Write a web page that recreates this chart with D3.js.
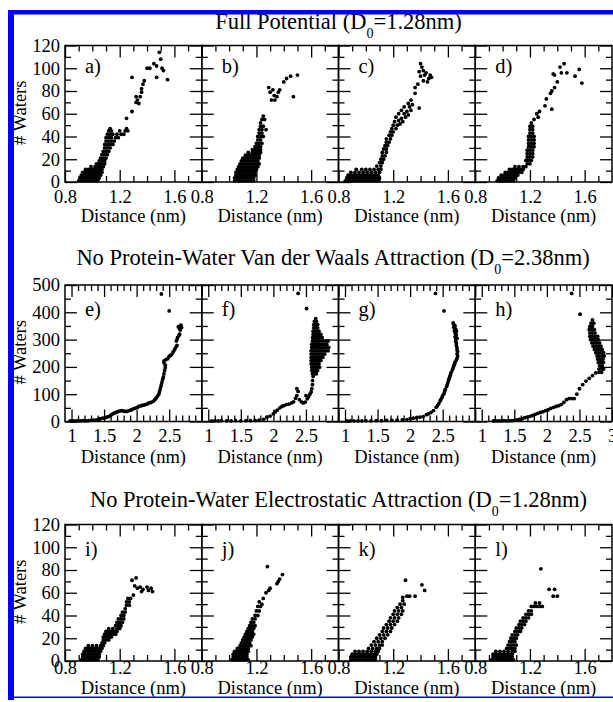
<!DOCTYPE html>
<html>
<head>
<meta charset="utf-8">
<script src="https://d3js.org/d3.v7.min.js"></script>
<style>
    body { margin: 0; background: #fff; }
    svg { display: block; }
    text { font-family: "Liberation Serif", "Times New Roman", serif; fill: #000; }
    .tick text { font-size: 18.5px; }
    .tick line { stroke: #000; stroke-width: 1.3px; }
    .title { font-size: 22.5px; }
    .lab { font-size: 18.5px; }
    .letter { font-size: 20.5px; }
</style>
</head>
<body>
<div id="chart"></div>
<script>
// ---- titles / labels ----
var rowTitles = [
    ["Full Potential (D", "0", "=1.28nm)"],
    ["No Protein-Water Van der Waals Attraction (D", "0", "=2.38nm)"],
    ["No Protein-Water Electrostatic Attraction (D", "0", "=1.28nm)"]
];
var panelNames = ["a)", "b)", "c)", "d)", "e)", "f)", "g)", "h)", "i)", "j)", "k)", "l)"];
var xLabel = "Distance (nm)";
var yLabel = "# Waters";

// ---- axis ticks ----
var xMajorShort = [0.8, 1.2, 1.6];
var xMinorShort = [0.9, 1.0, 1.1, 1.3, 1.4, 1.5, 1.7];
var yMajorShort = [0, 20, 40, 60, 80, 100, 120];
var yMinorShort = [10, 30, 50, 70, 90, 110];
var xMajorLong = [1, 1.5, 2, 2.5, 3];
var xLabelsLong = [1, 1.5, 2, 2.5];
var xLabelsLongLast = [1, 1.5, 2, 2.5, 3];
var xMinorLong = [1.1, 1.2, 1.3, 1.4, 1.6, 1.7, 1.8, 1.9, 2.1, 2.2, 2.3, 2.4, 2.6, 2.7, 2.8, 2.9];
var yMajorLong = [0, 100, 200, 300, 400, 500];
var yMinorLong = [50, 150, 250, 350, 450];

// ---- data: [distance nm, # waters] ----
var ptsA = [[0.90,1],[0.92,1],[0.94,1],[0.96,1],[0.98,1],[1.00,1],[1.02,1],[1.04,1],
[0.91,3.5],[0.93,3.5],[0.95,3.5],[0.97,3.5],[0.99,3.5],[1.01,3.5],[1.03,3.5],[1.05,3.5],
[0.92,6],[0.94,6],[0.96,6],[0.98,6],[1.00,6],[1.02,6],[1.04,6],[1.06,6],
[0.93,8.5],[0.95,8.5],[0.97,8.5],[0.99,8.5],[1.01,8.5],[1.03,8.5],[1.05,8.5],[1.07,8.5],
[0.95,11],[0.97,11],[0.99,11],[1.01,11],[1.03,11],[1.05,11],[1.07,11],
[0.99,13.5],[1.02,13.5],[1.04,13.5],[1.06,13.5],[1.08,13.5],
[1.03,16],[1.05,16],[1.07,16],[1.09,16],[1.05,18.5],[1.07,18.5],[1.09,18.5],
[1.06,21],[1.08,21],[1.10,21],[1.07,24],[1.09,24],[1.11,24],[1.08,27],[1.10,27],[1.12,27],
[1.09,30],[1.11,30],[1.13,30],[1.09,33],[1.11,33],[1.13,33],[1.15,33],
[1.10,36],[1.12,36],[1.14,36],[1.16,36],[1.10,39],[1.12,39],[1.14,39],[1.17,39],[1.19,39],
[1.11,42],[1.13,42],[1.15,42],[1.18,42],[1.21,42],[1.23,42],[1.12,45],[1.14,45],[1.20,45],[1.24,45],[1.26,45],
[1.13,47],[1.25,47],
[1.25,56],[1.29,62],[1.29,92],[1.32,70],[1.33,72],[1.34,69],[1.32,75],[1.35,75],[1.36,79],[1.36,82],
[1.37,86],[1.38,89],[1.40,100],[1.42,100],[1.45,104],[1.47,102],[1.49,114],[1.50,108],[1.47,92],
[1.51,100],[1.52,98],[1.55,90]];

var ptsB = [[1.04,1],[1.06,1],[1.08,1],[1.10,1],[1.12,1],[1.14,1],[1.16,1],[1.18,1],
[1.04,3.5],[1.06,3.5],[1.08,3.5],[1.10,3.5],[1.12,3.5],[1.14,3.5],[1.16,3.5],[1.18,3.5],
[1.05,6],[1.07,6],[1.09,6],[1.11,6],[1.13,6],[1.15,6],[1.17,6],[1.19,6],
[1.05,8.5],[1.07,8.5],[1.09,8.5],[1.11,8.5],[1.13,8.5],[1.15,8.5],[1.17,8.5],[1.19,8.5],
[1.06,11],[1.08,11],[1.10,11],[1.12,11],[1.14,11],[1.16,11],[1.18,11],[1.20,11],
[1.07,13.5],[1.09,13.5],[1.11,13.5],[1.13,13.5],[1.15,13.5],[1.17,13.5],[1.19,13.5],[1.21,13.5],
[1.08,16],[1.10,16],[1.12,16],[1.14,16],[1.16,16],[1.18,16],[1.20,16],[1.22,16],
[1.09,18.5],[1.11,18.5],[1.13,18.5],[1.15,18.5],[1.17,18.5],[1.19,18.5],[1.21,18.5],
[1.10,21],[1.12,21],[1.14,21],[1.16,21],[1.18,21],[1.20,21],[1.22,21],
[1.12,23.5],[1.14,23.5],[1.16,23.5],[1.18,23.5],[1.20,23.5],[1.22,23.5],
[1.14,26],[1.17,26],[1.19,26],[1.21,26],[1.23,26],[1.17,28.5],[1.19,28.5],[1.21,28.5],[1.23,28.5],
[1.19,31],[1.21,31],[1.23,31],[1.20,34],[1.22,34],[1.24,34],[1.21,37],[1.23,37],
[1.21,40],[1.23,40],[1.25,40],[1.22,43],[1.24,43],[1.22,46],[1.24,46],[1.23,49],[1.25,49],
[1.23,52],[1.24,55],[1.26,55],
[1.27,46],[1.25,58],[1.29,83],[1.30,79],[1.32,81],[1.33,76],[1.31,72],[1.335,72],[1.35,75],
[1.36,79],[1.37,81],[1.40,88],[1.42,91],[1.45,93],[1.50,94],[1.47,75]];

var ptsC = [[0.85,1],[0.87,1],[0.89,1],[0.91,1],[0.93,1],[0.95,1],[0.97,1],[0.99,1],[1.01,1],[1.03,1],[1.05,1],[1.07,1],[1.09,1],
[0.86,3.5],[0.88,3.5],[0.90,3.5],[0.92,3.5],[0.94,3.5],[0.96,3.5],[0.98,3.5],[1.00,3.5],[1.02,3.5],[1.04,3.5],[1.06,3.5],[1.08,3.5],[1.10,3.5],
[0.87,6],[0.89,6],[0.91,6],[0.93,6],[0.95,6],[0.97,6],[0.99,6],[1.01,6],[1.03,6],[1.05,6],[1.07,6],[1.09,6],
[0.89,8.5],[0.92,8.5],[0.95,8.5],[0.98,8.5],[1.01,8.5],[1.04,8.5],[1.07,8.5],[1.10,8.5],
[0.93,11],[0.97,11],[1.00,11],[1.03,11],[1.06,11],[1.09,11],[1.11,11],
[1.08,14],[1.11,14],[1.10,17],[1.12,17],[1.11,20],[1.13,20],[1.12,23],[1.14,23],
[1.12,26],[1.15,26],[1.13,29],[1.15,29],[1.14,32],[1.16,32],[1.15,35],[1.17,35],
[1.15,38],[1.18,38],[1.17,41],[1.19,41],[1.18,44],[1.20,44],[1.19,47],[1.22,47],
[1.20,50],[1.23,50],[1.25,51],[1.21,53],[1.24,54],[1.27,53],
[1.22,57],[1.26,56],[1.29,57],[1.24,60],[1.28,60],[1.31,59],
[1.26,63],[1.30,62],[1.33,63],[1.28,66],[1.32,66],[1.39,65],[1.31,69],[1.34,68],[1.33,72],
[1.36,78],[1.36,83],[1.38,86],[1.40,104],[1.41,101],[1.42,98],[1.43,94],[1.44,96],[1.46,91],
[1.47,94],[1.48,92],[1.45,88],[1.42,89],[1.40,93],[1.39,97]];

var ptsD = [[0.96,1],[0.98,1],[1.00,1],[1.02,1],[1.04,1],[1.06,1],[1.08,1],
[0.97,3.5],[0.99,3.5],[1.01,3.5],[1.03,3.5],[1.05,3.5],[1.07,3.5],[1.09,3.5],
[0.99,6],[1.01,6],[1.03,6],[1.05,6],[1.07,6],[1.09,6],[1.11,6],
[1.02,8.5],[1.04,8.5],[1.06,8.5],[1.08,8.5],[1.10,8.5],[1.12,8.5],[1.14,8.5],
[1.05,11],[1.07,11],[1.09,11],[1.11,11],[1.13,11],[1.15,11],
[1.09,13.5],[1.12,13.5],[1.15,13.5],[1.17,13.5],[1.18,16],[1.20,16],
[1.17,19],[1.19,19],[1.21,19],[1.18,22],[1.20,22],[1.22,22],[1.18,25],[1.20,25],[1.22,25],
[1.18,28],[1.20,28],[1.22,28],[1.19,31],[1.21,31],[1.23,31],[1.19,34],[1.21,34],[1.23,34],
[1.19,37],[1.21,37],[1.23,37],[1.19,40],[1.21,40],[1.23,40],[1.20,43],[1.22,43],
[1.20,46],[1.22,46],[1.20,49],[1.22,49],[1.21,52],
[1.23,55],[1.25,60],[1.26,57],[1.27,62],[1.31,67],[1.32,73],[1.35,78],[1.36,64],[1.36,80],
[1.37,95],[1.38,94],[1.38,83],[1.40,88],[1.42,101],[1.43,96],[1.45,104],[1.47,96],[1.53,93],
[1.56,99],[1.58,87]];

var ptsE = [[0.98,2],[1.02,2],[1.06,2],[1.10,2],[1.14,2],[1.18,3],[1.22,2],[1.26,3],[1.30,4],[1.34,5],[1.38,6],[1.42,8],
[1.44,10],[1.48,12],[1.51,13],[1.54,16],[1.57,18],[1.60,22],[1.62,26],[1.65,30],[1.67,32],[1.70,35],
[1.72,37],[1.75,39],[1.77,40],[1.80,38],[1.82,37],[1.85,37],[1.87,39],[1.90,41],[1.92,43],[1.95,46],
[1.98,49],[2.01,52],[2.03,55],[2.06,57],[2.08,59],[2.11,60],[2.13,62],[2.16,64],[2.18,67],[2.21,69],
[2.23,71],[2.26,75],[2.28,80],[2.30,86],[2.32,92],[2.34,100],[2.35,108],[2.36,117],[2.37,126],
[2.38,135],[2.39,145],[2.40,155],[2.41,163],[2.42,175],[2.43,187],[2.44,197],[2.44,206],[2.42,215],
[2.42,222],[2.45,227],[2.48,230],[2.50,239],[2.52,242],[2.54,246],[2.56,255],[2.58,262],[2.59,267],
[2.61,275],[2.62,279],[2.61,295],[2.62,300],[2.63,308],[2.65,315],[2.66,320],[2.67,335],[2.69,344],
[2.64,347],[2.68,353],[2.66,340],
[2.38,467],[2.50,405]];

var ptsF = [[1.05,2],[1.10,2],[1.15,2],[1.20,3],[1.28,2],[1.35,2],[1.42,3],[1.50,2],[1.58,3],[1.65,3],[1.72,4],[1.78,5],[1.85,8],
[1.90,16],[1.95,20],[2.00,28],[2.03,35],[2.06,42],[2.10,50],[2.13,55],[2.16,58],[2.20,62],[2.24,64],
[2.28,68],[2.31,72],[2.34,85],[2.36,95],[2.38,110],[2.36,120],[2.40,80],[2.43,72],[2.46,68],[2.49,71],
[2.52,83],[2.50,95],[2.54,90],[2.56,100],[2.58,108],[2.59,120],[2.60,135],[2.60,150],[2.61,165],
[2.60,175],[2.63,175],[2.66,175],[2.59,187],[2.62,187],[2.65,187],[2.68,187],
[2.59,199],[2.62,199],[2.65,199],[2.68,199],[2.71,199],[2.58,211],[2.61,211],[2.64,211],[2.67,211],[2.70,211],
[2.58,223],[2.61,223],[2.64,223],[2.67,223],[2.70,223],[2.73,223],
[2.58,235],[2.61,235],[2.64,235],[2.67,235],[2.70,235],[2.73,235],[2.76,235],
[2.58,247],[2.61,247],[2.64,247],[2.67,247],[2.70,247],[2.73,247],[2.76,247],[2.79,247],
[2.58,259],[2.61,259],[2.64,259],[2.67,259],[2.70,259],[2.73,259],[2.76,259],[2.80,259],[2.84,259],
[2.59,271],[2.62,271],[2.65,271],[2.68,271],[2.71,271],[2.74,271],[2.77,271],[2.81,271],[2.85,271],
[2.59,283],[2.62,283],[2.65,283],[2.68,283],[2.71,283],[2.74,283],[2.78,283],[2.82,283],
[2.60,295],[2.63,295],[2.66,295],[2.69,295],[2.72,295],[2.76,295],[2.80,295],[2.84,295],
[2.60,307],[2.63,307],[2.66,307],[2.69,307],[2.72,307],[2.75,307],
[2.61,319],[2.64,319],[2.67,319],[2.70,319],[2.73,319],[2.61,331],[2.64,331],[2.67,331],[2.70,331],
[2.62,343],[2.65,343],[2.68,343],[2.62,355],[2.65,355],[2.68,355],[2.63,367],[2.66,367],[2.65,377],
[2.38,469],[2.51,414]];

var ptsG = [[1.03,2],[1.08,2],[1.14,2],[1.20,2],[1.26,2],[1.32,3],[1.40,2],[1.48,3],[1.56,3],[1.64,4],[1.72,4],[1.80,5],[1.88,6],[1.95,7],
[2.00,10],[2.05,12],[2.10,14],[2.15,16],[2.20,18],[2.25,25],[2.28,28],[2.32,33],[2.36,40],[2.40,52],
[2.42,58],[2.44,65],[2.46,75],[2.47,80],[2.49,88],[2.50,95],[2.52,102],[2.53,110],[2.54,118],[2.56,128],
[2.57,135],[2.58,142],[2.59,151],[2.60,158],[2.61,165],[2.62,172],[2.63,180],[2.65,190],[2.66,196],
[2.67,203],[2.68,210],[2.69,217],[2.71,225],[2.72,232],[2.73,240],[2.72,248],[2.73,256],[2.72,262],
[2.72,270],[2.71,278],[2.71,286],[2.70,294],[2.70,302],[2.69,310],[2.71,317],[2.69,324],[2.68,332],
[2.70,338],[2.67,345],[2.69,350],[2.67,356],[2.66,361],[2.71,330],[2.72,305],
[2.39,469],[2.52,405]];

var ptsH = [[1.18,2],[1.22,2],[1.26,2],[1.30,2],[1.34,3],[1.38,2],[1.42,3],[1.46,3],[1.50,4],
[1.54,6],[1.58,8],[1.62,10],[1.66,14],[1.70,16],[1.74,19],[1.78,22],[1.82,26],[1.86,30],[1.90,33],
[1.94,36],[1.98,40],[2.02,43],[2.06,48],[2.10,52],[2.14,55],[2.18,58],[2.22,62],[2.26,70],[2.30,80],
[2.34,84],[2.38,84],[2.42,84],[2.46,100],[2.50,120],[2.55,135],[2.60,148],[2.65,158],[2.70,168],[2.75,178],
[2.80,180],[2.84,180],[2.80,192],[2.84,192],[2.87,192],[2.81,204],[2.85,204],
[2.79,216],[2.83,216],[2.87,216],[2.78,228],[2.82,228],[2.86,228],
[2.77,240],[2.81,240],[2.85,240],[2.88,240],[2.75,252],[2.79,252],[2.83,252],[2.87,252],
[2.73,264],[2.77,264],[2.81,264],[2.85,264],[2.71,276],[2.75,276],[2.79,276],[2.83,276],
[2.69,288],[2.73,288],[2.77,288],[2.81,288],[2.67,300],[2.71,300],[2.75,300],[2.79,300],
[2.66,312],[2.70,312],[2.74,312],[2.78,312],[2.66,324],[2.70,324],[2.74,324],
[2.65,336],[2.69,336],[2.73,336],[2.66,348],[2.70,348],[2.68,360],[2.72,360],[2.70,372],
[2.38,469],[2.51,393]];

var ptsI = [[0.92,1],[0.94,1],[0.96,1],[0.98,1],[1.00,1],[1.02,1],[1.04,1],
[0.93,3.5],[0.95,3.5],[0.97,3.5],[0.99,3.5],[1.01,3.5],[1.03,3.5],[1.05,3.5],
[0.93,6],[0.95,6],[0.97,6],[0.99,6],[1.01,6],[1.03,6],[1.05,6],
[0.94,8.5],[0.96,8.5],[0.98,8.5],[1.00,8.5],[1.02,8.5],[1.04,8.5],[1.06,8.5],
[0.95,11],[0.97,11],[0.99,11],[1.01,11],[1.03,11],[1.05,11],[1.07,11],
[0.97,13.5],[1.00,13.5],[1.03,13.5],[1.06,13.5],[1.08,13.5],[1.07,16],[1.09,16],
[1.08,18.5],[1.10,18.5],[1.12,18.5],[1.08,21],[1.10,21],[1.12,21],[1.14,21],
[1.09,23.5],[1.11,23.5],[1.13,23.5],[1.15,23.5],[1.17,23.5],[1.10,26],[1.12,26],[1.14,26],[1.16,26],[1.18,26],
[1.12,28.5],[1.15,28.5],[1.18,28.5],[1.20,28.5],[1.17,31],[1.19,31],[1.21,31],[1.18,34],[1.20,34],[1.22,34],
[1.19,37],[1.21,37],[1.23,37],[1.21,40],[1.23,40],[1.22,43],[1.24,43],[1.24,46],
[1.25,49],[1.27,49],[1.25,52],[1.27,52],[1.26,55],[1.28,55],
[1.29,71],[1.32,73],[1.31,66],[1.33,64],[1.35,65],[1.36,61],[1.37,63],[1.40,65],[1.41,62],[1.43,64],[1.44,61],[1.30,58]];

var ptsJ = [[1.02,1],[1.04,1],[1.06,1],[1.08,1],[1.10,1],[1.12,1],[1.14,1],
[1.03,3.5],[1.05,3.5],[1.07,3.5],[1.09,3.5],[1.11,3.5],[1.13,3.5],
[1.03,6],[1.05,6],[1.07,6],[1.09,6],[1.11,6],[1.13,6],
[1.04,8.5],[1.06,8.5],[1.08,8.5],[1.10,8.5],[1.12,8.5],[1.14,8.5],
[1.06,11],[1.08,11],[1.10,11],[1.12,11],[1.14,11],[1.08,13.5],[1.10,13.5],[1.12,13.5],[1.14,13.5],[1.16,13.5],
[1.09,16],[1.11,16],[1.13,16],[1.15,16],[1.10,18.5],[1.12,18.5],[1.14,18.5],[1.16,18.5],
[1.11,21],[1.13,21],[1.15,21],[1.17,21],[1.12,23.5],[1.14,23.5],[1.16,23.5],[1.18,23.5],
[1.13,26],[1.15,26],[1.17,26],[1.14,28.5],[1.16,28.5],[1.18,28.5],[1.15,31],[1.17,31],[1.19,31],
[1.16,34],[1.18,34],[1.17,37],[1.19,37],[1.19,40],[1.21,40],[1.20,44],[1.22,44],[1.21,48],[1.23,48],[1.22,52],
[1.24,50],[1.25,55],[1.27,60],[1.29,62],[1.30,64],[1.28,83],[1.35,68],[1.36,70],[1.37,72],[1.39,76]];

var ptsK = [[0.89,1],[0.91,1],[0.93,1],[0.95,1],[0.97,1],[0.99,1],[1.01,1],[1.03,1],[1.05,1],[1.07,1],
[0.89,3.5],[0.91,3.5],[0.93,3.5],[0.95,3.5],[0.97,3.5],[0.99,3.5],[1.01,3.5],[1.03,3.5],[1.05,3.5],[1.07,3.5],
[0.90,6],[0.92,6],[0.94,6],[0.96,6],[0.98,6],[1.00,6],[1.02,6],[1.04,6],[1.06,6],[1.08,6],
[0.92,8.5],[0.95,8.5],[0.98,8.5],[1.01,8.5],[1.04,8.5],[1.07,8.5],[1.09,8.5],
[1.02,11],[1.05,11],[1.08,11],[1.10,11],[1.04,14],[1.07,14],[1.10,14],[1.12,14],
[1.06,17],[1.09,17],[1.12,17],[1.08,20],[1.11,20],[1.14,20],[1.10,23],[1.13,23],[1.16,23],
[1.12,26],[1.15,26],[1.18,26],[1.13,29],[1.16,29],[1.19,29],[1.15,32],[1.18,32],[1.21,32],
[1.17,35],[1.20,35],[1.23,35],[1.18,38],[1.21,38],[1.24,38],[1.20,41],[1.23,41],[1.26,41],
[1.21,44],[1.24,44],[1.27,44],[1.23,47],[1.26,47],[1.25,50],[1.28,50],[1.27,53],
[1.27,56],[1.30,57],[1.32,57],[1.36,57],[1.29,71],[1.41,67],[1.43,62]];

var ptsL = [[0.92,1],[0.94,1],[0.96,1],[0.98,1],[1.00,1],[1.02,1],[1.04,1],[1.06,1],[1.08,1],
[0.93,3.5],[0.95,3.5],[0.97,3.5],[0.99,3.5],[1.01,3.5],[1.03,3.5],[1.05,3.5],[1.07,3.5],
[0.93,6],[0.95,6],[0.97,6],[0.99,6],[1.01,6],[1.03,6],[1.05,6],[1.07,6],
[0.95,8.5],[0.98,8.5],[1.01,8.5],[1.04,8.5],[1.07,8.5],[1.09,8.5],
[1.03,11],[1.05,11],[1.07,11],[1.09,11],[1.04,14],[1.06,14],[1.08,14],[1.10,14],
[1.05,17],[1.07,17],[1.09,17],[1.06,20],[1.08,20],[1.10,20],[1.07,23],[1.09,23],[1.11,23],
[1.09,26],[1.11,26],[1.13,26],[1.10,29],[1.12,29],[1.14,29],[1.12,32],[1.14,32],[1.16,32],
[1.13,35],[1.15,35],[1.17,35],[1.15,38],[1.17,38],[1.19,38],[1.17,41],[1.19,41],[1.21,41],
[1.19,44],[1.21,44],[1.21,48],[1.23,48],[1.25,48],[1.27,48],[1.29,48],[1.24,51],[1.27,51],
[1.28,81],[1.34,63],[1.38,63],[1.37,57],[1.40,57]];

var panelData = [ptsA, ptsB, ptsC, ptsD, ptsE, ptsF, ptsG, ptsH, ptsI, ptsJ, ptsK, ptsL];

// ---- layout ----
var W = 613, H = 702;
var left0 = 65, pw = 136.75, ph = 136.5;
var rows = [
    {top: 45.5, xd: [0.8, 1.8], yd: [0, 120], xMaj: xMajorShort, xMin: xMinorShort, yMaj: yMajorShort, yMin: yMinorShort,
     fmt: d3.format(".1f"), pad: 8, labDy: 40, titleY: 28.5, titleX: 338.5, letterY: 27.5},
    {top: 285, xd: [0.9, 3.0], yd: [0, 500], xMaj: xMajorLong, xMin: xMinorLong, yMaj: yMajorLong, yMin: yMinorLong,
     fmt: d3.format(""), pad: 7.5, labDy: 41.5, titleY: 265, titleX: 333, letterY: 31},
    {top: 524.5, xd: [0.8, 1.8], yd: [0, 120], xMaj: xMajorShort, xMin: xMinorShort, yMaj: yMajorShort, yMin: yMinorShort,
     fmt: d3.format(".1f"), pad: 0, labDy: 33, titleY: 506.5, titleX: 338.5, letterY: 31}
];

var svg = d3.select("#chart").append("svg")
    .attr("width", W)
    .attr("height", H);

svg.append("rect").attr("width", W).attr("height", H).attr("fill", "#fff");

function cleanAxis(g) {
    g.select(".domain").remove();
    g.attr("font-size", null).attr("font-family", null);
}

rows.forEach(function(row, r) {
    // row title with subscript
    var t = svg.append("text")
        .attr("class", "title")
        .attr("x", row.titleX)
        .attr("y", row.titleY)
        .attr("text-anchor", "middle");
    t.append("tspan").text(rowTitles[r][0]);
    t.append("tspan").attr("font-size", "14px").attr("dy", 9).text(rowTitles[r][1]);
    t.append("tspan").attr("dy", -9).text(rowTitles[r][2]);

    var bottom = row.top + ph;

    for (var c = 0; c < 4; c++) {
        var idx = r * 4 + c;
        var x0 = left0 + c * pw;
        var x = d3.scaleLinear().domain(row.xd).range([x0, x0 + pw]);
        var y = d3.scaleLinear().domain(row.yd).range([bottom, row.top]);
        var g = svg.append("g");

        // points
        g.append("g").selectAll("circle")
            .data(panelData[idx])
            .enter().append("circle")
            .attr("cx", function(d) { return x(d[0]); })
            .attr("cy", function(d) { return y(d[1]); })
            .attr("r", 1.9)
            .attr("fill", "#000");

        // ticks (all pointing inward)
        var xLabs = row.xMaj;
        if (r === 1) xLabs = (c === 3) ? xLabelsLongLast : xLabelsLong;
        var labSet = xLabs.map(String);
        var fmt = row.fmt;

        g.append("g").attr("transform", "translate(0," + bottom + ")")
            .call(d3.axisBottom(x).tickValues(row.xMaj).tickSize(-12).tickPadding(row.pad)
                .tickFormat(function(d) { return labSet.indexOf(String(d)) >= 0 ? fmt(d) : ""; }))
            .call(cleanAxis);
        g.append("g").attr("transform", "translate(0," + bottom + ")")
            .call(d3.axisBottom(x).tickValues(row.xMin).tickSize(-6).tickFormat(""))
            .call(cleanAxis);
        g.append("g").attr("transform", "translate(0," + row.top + ")")
            .call(d3.axisTop(x).tickValues(row.xMaj).tickSize(-12).tickFormat(""))
            .call(cleanAxis);
        g.append("g").attr("transform", "translate(0," + row.top + ")")
            .call(d3.axisTop(x).tickValues(row.xMin).tickSize(-6).tickFormat(""))
            .call(cleanAxis);

        g.append("g").attr("transform", "translate(" + x0 + ",0)")
            .call(d3.axisLeft(y).tickValues(row.yMaj).tickSize(-12).tickPadding(5)
                .tickFormat(c === 0 ? d3.format("") : ""))
            .call(cleanAxis);
        g.append("g").attr("transform", "translate(" + x0 + ",0)")
            .call(d3.axisLeft(y).tickValues(row.yMin).tickSize(-6).tickFormat(""))
            .call(cleanAxis);
        g.append("g").attr("transform", "translate(" + (x0 + pw) + ",0)")
            .call(d3.axisRight(y).tickValues(row.yMaj).tickSize(-12).tickFormat(""))
            .call(cleanAxis);
        g.append("g").attr("transform", "translate(" + (x0 + pw) + ",0)")
            .call(d3.axisRight(y).tickValues(row.yMin).tickSize(-6).tickFormat(""))
            .call(cleanAxis);

        // frame
        g.append("rect")
            .attr("x", x0).attr("y", row.top)
            .attr("width", pw).attr("height", ph)
            .attr("fill", "none")
            .attr("stroke", "#000")
            .attr("stroke-width", 1.5);

        // panel letter
        g.append("text")
            .attr("class", "letter")
            .attr("x", x0 + 20)
            .attr("y", row.top + row.letterY)
            .text(panelNames[idx]);

        // x axis title
        g.append("text")
            .attr("class", "lab")
            .attr("x", x0 + pw / 2)
            .attr("y", bottom + row.labDy)
            .attr("text-anchor", "middle")
            .text(xLabel);
    }

    // y axis title
    svg.append("text")
        .attr("class", "lab")
        .attr("transform", "translate(25.5," + (row.top + ph / 2 - 1) + ") rotate(-90)")
        .attr("text-anchor", "middle")
        .text(yLabel);
});

// blue page border
var blue = "#0000ff";
svg.append("rect").attr("x", 8).attr("y", 10).attr("width", W - 8).attr("height", 4.5).attr("fill", blue);
svg.append("rect").attr("x", 8).attr("y", 10).attr("width", 6).attr("height", 690).attr("fill", blue);
svg.append("rect").attr("x", 8).attr("y", 696.5).attr("width", W - 8).attr("height", 1.5).attr("fill", blue);
</script>
</body>
</html>
